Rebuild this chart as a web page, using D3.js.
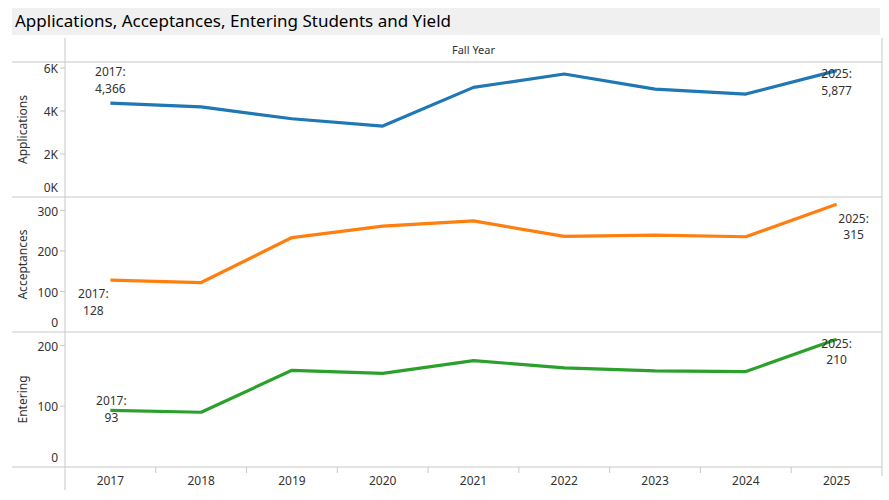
<!DOCTYPE html>
<html>
<head>
<meta charset="utf-8">
<script src="https://cdn.jsdelivr.net/npm/d3@7"></script>
<style>
  body { margin: 0; background: #fff; }
  text { font-family: "Noto Sans", "Open Sans", sans-serif; }
</style>
</head>
<body>
<script>
// chart data
var years = ["2017", "2018", "2019", "2020", "2021", "2022", "2023", "2024", "2025"];
var applications = [4366, 4190, 3640, 3300, 5100, 5720, 5020, 4790, 5877];
var acceptances = [128, 122, 233, 261, 274, 236, 239, 235, 315];
var entering = [93, 90, 159, 154, 175, 163, 158, 157, 210];

var appTicks = [0, 2000, 4000, 6000];
var accTicks = [0, 100, 200, 300];
var entTicks = [0, 100, 200];

var W = 889, H = 500;
var left = 65, right = 882;
var lineCol = "#c8c8c8";

var svg = d3.select("body").append("svg")
  .attr("width", W)
  .attr("height", H);

// title band
svg.append("rect")
  .attr("x", 12).attr("y", 8)
  .attr("width", 868).attr("height", 27)
  .attr("fill", "#f0f0f0");
svg.append("text")
  .attr("x", 15).attr("y", 27)
  .attr("font-size", 17)
  .attr("fill", "#000")
  .text("Applications, Acceptances, Entering Students and Yield");

svg.append("text")
  .attr("x", (left + right) / 2).attr("y", 54)
  .attr("text-anchor", "middle")
  .attr("font-size", 11)
  .attr("fill", "#333")
  .text("Fall Year");

var x = d3.scaleBand().domain(years).range([left, right]);

var panels = [
  { name: "Applications", values: applications, ticks: appTicks, top: 62, bottom: 197, max: 6280,
    color: "#1f77b4", fmt: function (d) { return (d / 1000) + "K"; },
    labels: [{ i: 0, dx: 0, dy: -27 }, { i: 8, dx: 0, dy: 7.5 }] },
  { name: "Acceptances", values: acceptances, ticks: accTicks, top: 197, bottom: 332, max: 333,
    color: "#ff7f0e", fmt: d3.format(","),
    labels: [{ i: 0, dx: -17, dy: 18 }, { i: 8, dx: 17, dy: 18.5 }] },
  { name: "Entering", values: entering, ticks: entTicks, top: 332, bottom: 467, max: 222,
    color: "#2ca02c", fmt: d3.format(","),
    labels: [{ i: 0, dx: 1, dy: -5 }, { i: 8, dx: 0, dy: 8.5 }] }
];

panels.forEach(function (p) {
  var y = d3.scaleLinear().domain([0, p.max]).range([p.bottom, p.top]);
  var g = svg.append("g");

  // y ticks
  p.ticks.forEach(function (t) {
    var ty = y(t);
    if (t > 0) {
      g.append("line")
        .attr("x1", left - 5).attr("x2", left)
        .attr("y1", ty).attr("y2", ty)
        .attr("stroke", lineCol);
    }
    g.append("text")
      .attr("x", left - 7)
      .attr("y", Math.min(ty + 1, p.bottom - 9))
      .attr("dy", "0.35em")
      .attr("text-anchor", "end")
      .attr("font-size", 12)
      .attr("fill", "#333")
      .text(p.fmt(t));
  });

  // axis title
  g.append("text")
    .attr("transform", "translate(27," + ((p.top + p.bottom) / 2) + ") rotate(-90)")
    .attr("text-anchor", "middle")
    .attr("font-size", 12)
    .attr("fill", "#333")
    .text(p.name);

  // line
  var line = d3.line()
    .x(function (d, i) { return x(years[i]) + x.bandwidth() / 2; })
    .y(function (d) { return y(d); });

  g.append("path")
    .datum(p.values)
    .attr("d", line)
    .attr("fill", "none")
    .attr("stroke", p.color)
    .attr("stroke-width", 3.2)
    .attr("stroke-linejoin", "round");

  // end labels
  p.labels.forEach(function (l) {
    var px = x(years[l.i]) + x.bandwidth() / 2 + l.dx;
    var py = y(p.values[l.i]) + l.dy;
    var t = g.append("text")
      .attr("text-anchor", "middle")
      .attr("font-size", 12)
      .attr("fill", "#333");
    t.append("tspan").attr("x", px).attr("y", py).text(years[l.i] + ":");
    t.append("tspan").attr("x", px).attr("y", py + 16.5).text(d3.format(",")(p.values[l.i]));
  });
});

// frame lines
[62, 197, 332, 467].forEach(function (ly) {
  svg.append("line")
    .attr("x1", 12).attr("x2", right)
    .attr("y1", ly).attr("y2", ly)
    .attr("stroke", lineCol);
});
svg.append("line")
  .attr("x1", left).attr("x2", left)
  .attr("y1", 38).attr("y2", 490)
  .attr("stroke", lineCol);
svg.append("line")
  .attr("x1", right).attr("x2", right)
  .attr("y1", 38).attr("y2", 476)
  .attr("stroke", lineCol);

// x axis
var xg = svg.append("g").attr("transform", "translate(0,467)");
years.slice(1).forEach(function (yr) {
  xg.append("line")
    .attr("x1", x(yr)).attr("x2", x(yr))
    .attr("y1", 0).attr("y2", 6)
    .attr("stroke", lineCol);
});
xg.selectAll(".yl")
  .data(years)
  .enter()
  .append("text")
  .attr("x", function (d) { return x(d) + x.bandwidth() / 2; })
  .attr("y", 18)
  .attr("text-anchor", "middle")
  .attr("font-size", 12)
  .attr("fill", "#333")
  .text(function (d) { return d; });
</script>
</body>
</html>
